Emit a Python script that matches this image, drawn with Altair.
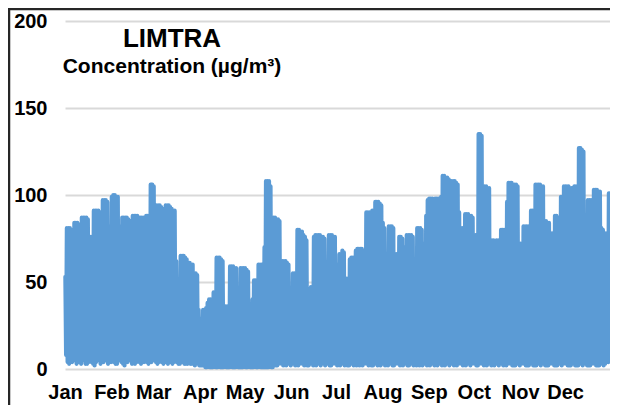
import altair as alt
import pandas as pd

# Daily peak concentrations (µg/m³), Jan 1 .. Dec 31
highs = [
    # Jan
    53, 81, 81, 81, 80, 73, 84, 84, 84, 83, 80, 87, 87, 87, 87, 86, 69, 76, 76, 91,
    91, 91, 91, 90, 85, 97, 97, 97, 96, 80, 82,
    # Feb
    99, 100, 100, 99, 99, 78, 82, 87, 87, 87, 87, 86, 85, 84, 88, 88, 88, 88, 86, 87,
    87, 87, 87, 88, 88, 88, 106, 106,
    # Mar
    105, 80, 94, 94, 94, 93, 92, 84, 94, 94, 94, 93, 92, 91, 91, 62, 51, 51, 65, 65,
    65, 64, 63, 61, 61, 60, 60, 55, 55, 54, 34,
    # Apr
    29, 29, 34, 34, 35, 38, 40, 40, 40, 44, 44, 64, 64, 64, 63, 62, 30, 36, 36, 33,
    59, 59, 59, 58, 58, 33, 33, 58, 58, 58,
    # May
    58, 57, 56, 30, 34, 40, 51, 51, 50, 60, 60, 60, 59, 70, 108, 108, 108, 105, 87, 87,
    87, 86, 86, 85, 49, 62, 62, 62, 61, 60, 45,
    # Jun
    45, 55, 55, 54, 80, 80, 79, 79, 77, 76, 74, 44, 44, 47, 47, 76, 77, 77, 77, 77,
    76, 76, 75, 48, 48, 77, 77, 77, 76, 76,
    # Jul
    60, 60, 66, 66, 68, 67, 50, 52, 52, 63, 64, 64, 63, 68, 69, 69, 69, 69, 68, 55,
    90, 90, 90, 89, 91, 91, 96, 96, 96, 95, 94,
    # Aug
    84, 81, 62, 66, 82, 82, 82, 81, 66, 66, 65, 76, 76, 75, 70, 70, 77, 77, 77, 77,
    76, 55, 55, 81, 81, 81, 80, 72, 66, 88, 97,
    # Sep
    98, 98, 98, 97, 98, 98, 98, 97, 99, 111, 111, 110, 110, 109, 73, 108, 108, 108, 107, 106,
    90, 81, 81, 80, 89, 89, 89, 88, 88, 87,
    # Oct
    77, 77, 76, 135, 135, 134, 105, 105, 105, 104, 104, 74, 74, 74, 73, 74, 74, 70, 80, 80,
    80, 79, 96, 107, 107, 107, 106, 106, 106, 105, 72,
    # Nov
    72, 72, 82, 82, 82, 82, 81, 91, 91, 91, 106, 106, 106, 106, 105, 105, 85, 85, 84, 84,
    78, 78, 77, 88, 88, 87, 87, 99, 99, 105,
    # Dec
    105, 105, 105, 104, 104, 92, 105, 105, 104, 127, 127, 126, 125, 74, 87, 97, 97, 97, 96, 103,
    103, 103, 102, 102, 81, 80, 78, 78, 78, 101, 101,
]

# Daily minimum concentrations (µg/m³), Jan 1 .. Dec 31
lows = [
    # Jan
    8, 4, 3, 5, 4, 9, 5, 3, 4, 4, 3, 8, 5, 3, 3, 4, 9, 4, 3, 2, 4, 8, 5, 3, 4, 4, 9, 5, 3, 4, 4,
    # Feb
    9, 4, 3, 3, 5, 8, 4, 3, 2, 4, 4, 9, 5, 3, 4, 3, 4, 8, 4, 3, 5, 4, 9, 4, 3, 4, 4, 8,
    # Mar
    5, 4, 3, 4, 9, 4, 3, 5, 4, 3, 7, 4, 3, 4, 6, 4, 3, 3, 4, 5, 3, 3, 3, 4, 3, 3, 3, 2, 3, 3, 2,
    # Apr
    2, 2, 2, 1, 1, 2, 1, 1, 1, 2, 1, 1, 2, 1, 1, 1, 2, 1, 1, 1, 2, 1, 1, 1, 2, 1, 1, 1, 1, 2,
    # May
    1, 1, 2, 1, 1, 1, 2, 1, 1, 2, 1, 1, 1, 1, 1, 1, 2, 1, 1, 3, 2, 2, 3, 5, 3, 2, 3, 2, 4, 3, 2,
    # Jun
    6, 3, 2, 3, 2, 3, 6, 3, 2, 3, 2, 2, 5, 3, 2, 3, 2, 6, 3, 2, 3, 3, 2, 5, 3, 2, 2, 3, 6, 3,
    # Jul
    2, 3, 2, 5, 3, 2, 3, 2, 2, 6, 3, 2, 3, 2, 5, 2, 3, 2, 3, 6, 3, 2, 3, 2, 2, 5, 3, 2, 3, 2, 6,
    # Aug
    3, 2, 3, 2, 7, 3, 2, 2, 3, 6, 3, 2, 3, 2, 5, 3, 2, 2, 6, 3, 2, 3, 2, 5, 2, 3, 2, 6, 3, 2, 3,
    # Sep
    2, 6, 3, 2, 3, 2, 7, 3, 2, 3, 2, 5, 3, 2, 3, 6, 2, 3, 2, 3, 6, 3, 2, 3, 2, 5, 3, 2, 3, 6,
    # Oct
    3, 2, 2, 3, 6, 3, 2, 3, 2, 7, 3, 2, 3, 2, 5, 3, 2, 3, 6, 2, 3, 2, 3, 6, 3, 2, 3, 2, 5, 3, 2,
    # Nov
    3, 6, 3, 2, 3, 2, 6, 3, 2, 3, 2, 5, 3, 2, 3, 6, 2, 3, 2, 3, 6, 3, 2, 3, 2, 5, 3, 2, 3, 6,
    # Dec
    3, 2, 3, 2, 6, 3, 2, 3, 2, 5, 3, 2, 3, 6, 2, 3, 2, 3, 6, 3, 2, 3, 2, 5, 3, 2, 3, 6, 4, 8, 10,
]

month_labels = ["Jan", "Feb", "Mar", "Apr", "May", "Jun",
                "Jul", "Aug", "Sep", "Oct", "Nov", "Dec"]
y_ticks = [0, 50, 100, 150, 200]
title_text = "LIMTRA"
subtitle_text = "Concentration (µg/m³)"

n = min(len(highs), len(lows))
days = pd.date_range("2019-01-01", periods=n, freq="D")
rows = []
for d, h, l in zip(days, highs[:n], lows[:n]):
    rows.append({"t": (d + pd.Timedelta(hours=6)).isoformat(), "v": h})
    rows.append({"t": (d + pd.Timedelta(hours=18)).isoformat(), "v": l})
df = pd.DataFrame(rows)

W, H = 545, 348
BLUE = "#5B9BD5"

month_values = [alt.DateTime(year=2019, month=m, date=1) for m in range(1, 13)]

line = alt.Chart(df).mark_line(
    color=BLUE, strokeWidth=4.2, strokeJoin="round", strokeCap="round", clip=False
).encode(
    x=alt.X("t:T",
            scale=alt.Scale(domain=[alt.DateTime(year=2019, month=1, date=1),
                                    alt.DateTime(year=2019, month=12, date=31)]),
            axis=alt.Axis(values=month_values, format="%b", title=None,
                          grid=False, domain=False, ticks=False,
                          labelFlush=False, labelAlign="center",
                          labelBaseline="alphabetic",
                          labelPadding=29, labelFontSize=20, labelFontWeight="bold",
                          labelColor="#000000", labelOverlap=False)),
    y=alt.Y("v:Q",
            scale=alt.Scale(domain=[0, 200], nice=False, zero=True),
            axis=alt.Axis(values=y_ticks, title=None, domain=False, ticks=False,
                          grid=True, gridColor="#d9d9d9", gridWidth=2,
                          labelPadding=18, labelFontSize=20, labelFontWeight="bold",
                          labelColor="#000000")),
)

title = alt.Chart(pd.DataFrame({"txt": [title_text]})).mark_text(
    fontSize=26, fontWeight="bold", color="#000000", align="center", baseline="alphabetic"
).encode(x=alt.value(107), y=alt.value(26), text="txt:N")

subtitle = alt.Chart(pd.DataFrame({"txt": [subtitle_text]})).mark_text(
    fontSize=21, fontWeight="bold", color="#000000", align="center", baseline="alphabetic"
).encode(x=alt.value(107), y=alt.value(52), text="txt:N")

frame = alt.Chart(pd.DataFrame({"k": [0]})).mark_rect(
    fill=None, stroke="#262626", strokeWidth=2.5, clip=False
).encode(x=alt.value(-56), x2=alt.value(W + 40), y=alt.value(-12), y2=alt.value(H + 80))

chart = alt.layer(line, title, subtitle, frame).properties(
    width=W, height=H,
    autosize=alt.AutoSizeParams(type="none"),
    padding={"left": 57, "top": 13, "right": 0, "bottom": 36},
).configure(
    font="Liberation Sans",
    background="#ffffff",
).configure_view(stroke=None)

chart.save("out.html", embed_options={"renderer": "svg", "actions": False})
